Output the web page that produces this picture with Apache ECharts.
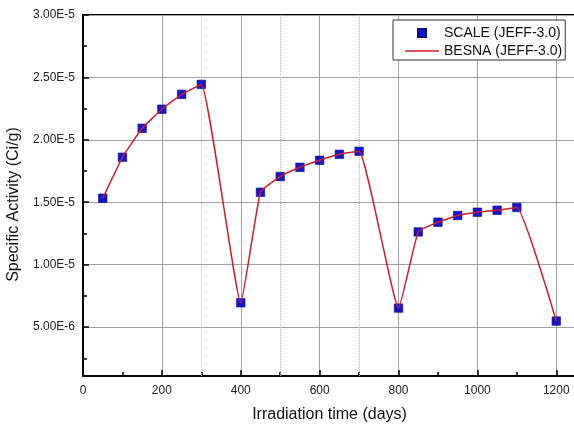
<!DOCTYPE html>
<html><head><meta charset="utf-8">
<script src="https://cdn.jsdelivr.net/npm/echarts@6/dist/echarts.min.js"></script>
<style>html,body{margin:0;padding:0;background:#fff}#c{width:574px;height:425px}</style>
</head><body><div id="c"></div>
<script>
// ---- data ----
const days = [50,100,150,200,250,300,400,450,500,550,600,650,700,800,850,900,950,1000,1050,1100,1200];
const scaleValues = [1.532e-5,1.86e-5,2.092e-5,2.245e-5,2.364e-5,2.444e-5,6.95e-6,1.58e-5,1.706e-5,1.78e-5,1.836e-5,1.884e-5,1.908e-5,6.52e-6,1.262e-5,1.34e-5,1.394e-5,1.42e-5,1.436e-5,1.458e-5,5.48e-6];
const besnaValues = [1.532e-5,1.86e-5,2.092e-5,2.245e-5,2.364e-5,2.444e-5,6.95e-6,1.58e-5,1.706e-5,1.78e-5,1.836e-5,1.884e-5,1.908e-5,6.52e-6,1.262e-5,1.34e-5,1.394e-5,1.42e-5,1.436e-5,1.458e-5,5.48e-6];
const xMajorTicks = [0,200,400,600,800,1000,1200];
const xMinorTicks = [100,300,500,700,900,1100];
const yMajorTicks = [5e-6,1e-5,1.5e-5,2e-5,2.5e-5,3e-5];
const yMinorTicks = [2.5e-6,7.5e-6,1.25e-5,1.75e-5,2.25e-5,2.75e-5];
const xDottedGrid = [300,500,700];
const yDottedGrid = [7.5e-6,1.75e-5,2.75e-5];
const seriesNames = ['SCALE (JEFF-3.0)','BESNA (JEFF-3.0)'];
const xName = 'Irradiation time (days)';
const yName = 'Specific Activity (Ci/g)';

const FONT = '"Liberation Sans", Arial, sans-serif';
const chart = echarts.init(document.getElementById('c'), null, {renderer:'canvas'});
const fmt = v => v.toExponential(2).toUpperCase();
const pts = (xs, ys) => xs.map((x,i)=>[x, ys[i]]);

chart.setOption({
  animation:false,
  backgroundColor:'#fff',
  textStyle:{fontFamily:FONT},
  grid:{left:83, top:15, width:493, height:361, show:true, borderColor:'#000', borderWidth:2, backgroundColor:'transparent', containLabel:false, outerBoundsMode:'none'},
  legend:{
    orient:'vertical', left:393, top:20, align:'left',
    padding:[5,3,1,11], itemGap:2, itemWidth:34, itemHeight:8,
    backgroundColor:'#fff', borderColor:'#333', borderWidth:1, borderRadius:0,
    textStyle:{fontFamily:FONT, fontSize:14, color:'#111', lineHeight:16},
    data:[
      {name:seriesNames[0], icon:'path://M0,0L0.01,0Z M13,0h8v8h-8Z M34,8L33.99,8Z'},
      {name:seriesNames[1], icon:'path://M0,0L0.01,0Z M0,3.2h34v1.6h-34Z M34,8L33.99,8Z'}
    ]
  },
  xAxis:[{
    type:'value', min:0, max:1250, position:'bottom',
    name:xName, nameLocation:'middle', nameGap:31,
    nameTextStyle:{fontFamily:FONT, fontSize:16, color:'#111'},
    axisLine:{show:true, onZero:false, lineStyle:{color:'#000', width:2}},
    axisTick:{show:true, inside:true, length:6, lineStyle:{color:'#000', width:1.5}, customValues:xMajorTicks},
    axisLabel:{show:true, margin:9, fontSize:12, color:'#222', fontFamily:FONT, customValues:xMajorTicks, formatter:v=>String(v)},
    splitLine:{show:true, lineStyle:{color:'#a0a0a0', width:1}}
  },{
    type:'value', min:0, max:1250, position:'bottom',
    axisLine:{show:false, onZero:false},
    axisTick:{show:true, inside:true, length:4, lineStyle:{color:'#000', width:1.5}, customValues:xMinorTicks},
    axisLabel:{show:false},
    splitLine:{show:false}
  }],
  yAxis:[{
    type:'value', min:1.08e-6, max:3e-5, position:'left',
    name:yName, nameLocation:'middle', nameGap:59,
    nameTextStyle:{fontFamily:FONT, fontSize:16, color:'#111', padding:[0,18,0,0]},
    axisLine:{show:true, onZero:false, lineStyle:{color:'#000', width:2}},
    axisTick:{show:true, inside:true, length:6, lineStyle:{color:'#000', width:1.5}, customValues:yMajorTicks},
    axisLabel:{show:true, margin:8, fontSize:12, color:'#222', fontFamily:FONT, customValues:yMajorTicks, formatter:fmt},
    splitLine:{show:true, lineStyle:{color:'#a0a0a0', width:1}}
  },{
    type:'value', min:1.08e-6, max:3e-5, position:'left',
    axisLine:{show:false, onZero:false},
    axisTick:{show:true, inside:true, length:4, lineStyle:{color:'#000', width:1.5}, customValues:yMinorTicks},
    axisLabel:{show:false},
    splitLine:{show:false}
  }],
  series:[{
    name:seriesNames[0], type:'scatter', xAxisIndex:0, yAxisIndex:0,
    symbol:'rect', symbolSize:8.5, z:2,
    itemStyle:{color:'#1414d2', borderColor:'#0a0a80', borderWidth:0.6, opacity:1},
    data:pts(days, scaleValues),
    markLine:{
      silent:true, symbol:['none','none'], z:1, animation:false,
      label:{show:false},
      lineStyle:{type:'dotted', color:'#bdbdbd', width:1},
      emphasis:{disabled:true},
      data:[...xDottedGrid.map(v=>({xAxis:v})), ...yDottedGrid.map(v=>({yAxis:v}))]
    }
  },{
    name:seriesNames[1], type:'line', xAxisIndex:0, yAxisIndex:0,
    symbol:'none', showSymbol:false, smooth:0.12, z:3,
    lineStyle:{color:'#cc2026', width:1.5},
    itemStyle:{color:'#cc2026'},
    data:pts(days, besnaValues)
  }]
});
</script></body></html>
